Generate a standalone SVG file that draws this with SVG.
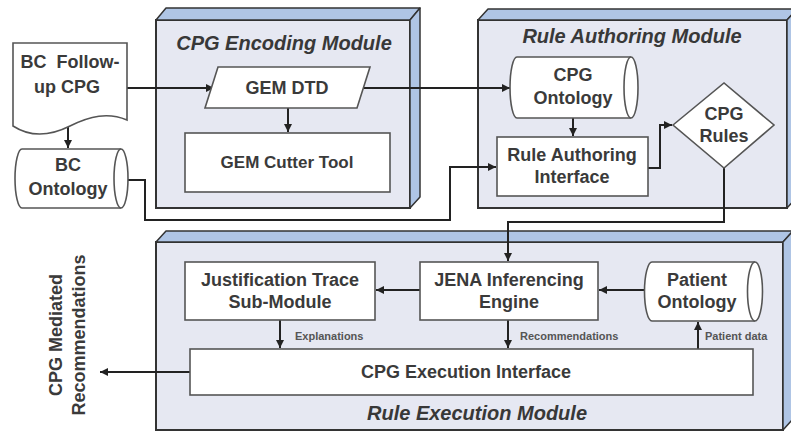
<svg xmlns="http://www.w3.org/2000/svg" width="791" height="432" viewBox="0 0 791 432">
<defs>
<marker id="arr" viewBox="0 0 10 10" refX="10" refY="5" markerWidth="9" markerHeight="8" markerUnits="userSpaceOnUse" orient="auto">
<path d="M0,0 L10,5 L0,10 z" fill="#222"/>
</marker>
<style>
.mod{fill:#e6e8f2;stroke:#333;stroke-width:2}
.bev{fill:#afc5e5;stroke:#333;stroke-width:1.5;stroke-linejoin:round}
.nd{fill:#fff;stroke:#555;stroke-width:1.6}
.t{font-family:"Liberation Sans",Arial,sans-serif;font-weight:bold;font-size:18px;fill:#3a3a3a;text-anchor:middle}
.ti{font-family:"Liberation Sans",Arial,sans-serif;font-weight:bold;font-style:italic;font-size:20px;fill:#383838;text-anchor:middle}
.lb{font-family:"Liberation Sans",Arial,sans-serif;font-weight:bold;font-size:11px;fill:#555}
.c{fill:none;stroke:#222;stroke-width:2}
</style>
</defs>
<rect width="791" height="432" fill="#fff"/>

<g id="encoding-module">
<rect class="mod" x="156" y="20" width="254" height="188"/>
<polygon class="bev" points="156,20 166,8 420,8 410,20"/>
<polygon class="bev" points="410,20 420,8 420,197 410,208"/>
<text class="ti" x="284" y="50">CPG Encoding Module</text>
</g>
<g id="authoring-module">
<rect class="mod" x="478" y="20" width="309" height="188"/>
<polygon class="bev" points="478,20 488,9 797,9 787,20"/>
<polygon class="bev" points="787,20 797,9 797,197 787,208"/>
<text class="ti" x="632" y="43">Rule Authoring Module</text>
</g>
<g id="execution-module">
<rect class="mod" x="156" y="242" width="627" height="188"/>
<polygon class="bev" points="156,242 166,231 793,231 783,242"/>
<polygon class="bev" points="783,242 793,231 793,419 783,430"/>
<text class="ti" x="477" y="420">Rule Execution Module</text>
</g>

<g id="connectors">
<path class="c" d="M127,88 H214" marker-end="url(#arr)"/>
<path class="c" d="M68,124 V148" marker-end="url(#arr)"/>
<path class="c" d="M288,108 V132" marker-end="url(#arr)"/>
<path class="c" d="M364,88 H510" marker-end="url(#arr)"/>
<path class="c" d="M128,180 H145 V220 H450 V167 H496" marker-end="url(#arr)"/>
<path class="c" d="M573,118 V136" marker-end="url(#arr)"/>
<path class="c" d="M648,168 H660 V125 H672" marker-end="url(#arr)"/>
<path class="c" d="M724,168 V222 H508 V261" marker-end="url(#arr)"/>
<path class="c" d="M420,290 H376" marker-end="url(#arr)"/>
<path class="c" d="M645,290 H599" marker-end="url(#arr)"/>
<path class="c" d="M508,320 V348" marker-end="url(#arr)"/>
<path class="c" d="M280,320 V348" marker-end="url(#arr)"/>
<path class="c" d="M698,349 V322" marker-end="url(#arr)"/>
<path class="c" d="M190,372 H100" marker-end="url(#arr)"/>
<text class="lb" x="295" y="340">Explanations</text>
<text class="lb" x="520" y="340">Recommendations</text>
<text class="lb" x="705" y="340">Patient data</text>
</g>

<g id="bc-followup-cpg">
<path class="nd" d="M13,43 H127 V120 C108,112 90,116 70,126 C50,136 30,137 13,126 Z"/>
<text class="t" x="70" y="68" word-spacing="5">BC Follow-</text>
<text class="t" x="67" y="93">up CPG</text>
</g>
<g id="bc-ontology">
<path class="nd" d="M22,149 H121 A7,29.5 0 0 1 121,208 H22 A7,29.5 0 0 1 22,149 Z"/>
<path class="nd" d="M121,149 A7,29.5 0 0 0 121,208" fill="none"/>
<text class="t" x="68" y="171">BC</text>
<text class="t" x="68" y="195">Ontology</text>
</g>
<g id="gem-dtd">
<polygon class="nd" points="218,67 370,67 357,108 205,108"/>
<text class="t" x="287" y="94">GEM DTD</text>
</g>
<g id="gem-cutter-tool">
<rect class="nd" x="185" y="133" width="205" height="59"/>
<text class="t" x="287" y="168" style="font-size:17px">GEM Cutter Tool</text>
</g>
<g id="cpg-ontology">
<path class="nd" d="M517,57 H631 A7,30.5 0 0 1 631,118 H517 A7,30.5 0 0 1 517,57 Z"/>
<path class="nd" d="M631,57 A7,30.5 0 0 0 631,118" fill="none"/>
<text class="t" x="573" y="81">CPG</text>
<text class="t" x="573" y="104">Ontology</text>
</g>
<g id="rule-authoring-interface">
<rect class="nd" x="497" y="137" width="151" height="59"/>
<text class="t" x="572" y="161">Rule Authoring</text>
<text class="t" x="572" y="183">Interface</text>
</g>
<g id="cpg-rules">
<polygon class="nd" points="673,125 724,83 774,125 724,168"/>
<text class="t" x="724" y="120">CPG</text>
<text class="t" x="724" y="142">Rules</text>
</g>
<g id="justification-trace">
<rect class="nd" x="185" y="262" width="190" height="58"/>
<text class="t" x="280" y="286">Justification Trace</text>
<text class="t" x="280" y="308">Sub-Module</text>
</g>
<g id="jena-engine">
<rect class="nd" x="420" y="262" width="178" height="58"/>
<text class="t" x="509" y="286">JENA Inferencing</text>
<text class="t" x="509" y="308">Engine</text>
</g>
<g id="patient-ontology">
<path class="nd" d="M652,262 H755 A7.5,29.5 0 0 1 755,321 H652 A7.5,29.5 0 0 1 652,262 Z"/>
<path class="nd" d="M755,262 A7.5,29.5 0 0 0 755,321" fill="none"/>
<text class="t" x="697" y="286">Patient</text>
<text class="t" x="697" y="308">Ontology</text>
</g>
<g id="cpg-execution-interface">
<rect class="nd" x="190" y="349" width="563" height="46"/>
<text class="t" x="466" y="378">CPG Execution Interface</text>
</g>
<g id="cpg-mediated-recommendations">
<text class="t" transform="translate(62,335) rotate(-90)">CPG Mediated</text>
<text class="t" transform="translate(85,335) rotate(-90)">Recommendations</text>
</g>
</svg>
